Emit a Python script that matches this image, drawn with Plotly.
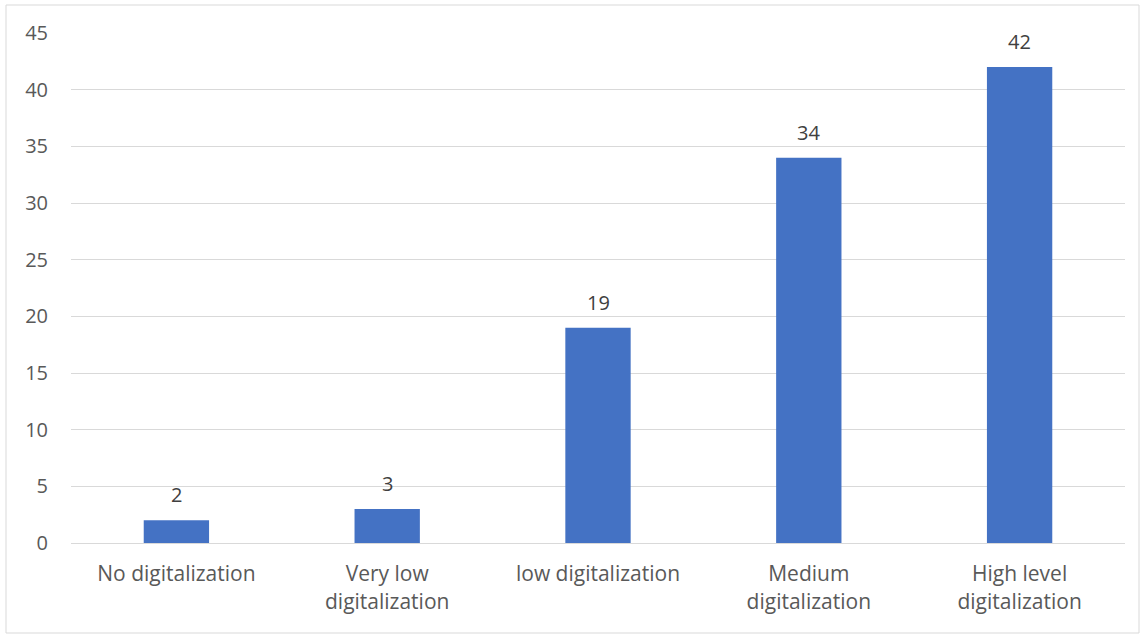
import plotly.graph_objects as go

categories = ["No digitalization", "Very low<br>digitalization", "low digitalization",
              "Medium<br>digitalization", "High level<br>digitalization"]
values = [2, 3, 19, 34, 42]
y_ticks = [0, 5, 10, 15, 20, 25, 30, 35, 40, 45]

W, H = 1142, 634
ML, MR, MT, MB = 71, 17, 33, 91
pw, ph = W - ML - MR, H - MT - MB


def px_to_paper_x(px):
    return (px - ML) / pw


def px_to_paper_y(py):
    return (H - MB - py) / ph


font_family = "'Open Sans', sans-serif"
grey = "#595959"
fsize = 21

fig = go.Figure(
    go.Bar(
        x=categories,
        y=values,
        marker=dict(color="#4472C4", line=dict(width=0)),
    )
)

# value labels above each bar
for c, v in zip(categories, values):
    fig.add_annotation(
        x=c, y=v, text=str(v), showarrow=False,
        yanchor="bottom", yshift=10,
        font=dict(family=font_family, size=20, color="#404040"),
    )

fig.update_layout(
    width=W,
    height=H,
    margin=dict(l=ML, r=MR, t=MT, b=MB),
    paper_bgcolor="white",
    plot_bgcolor="white",
    bargap=0.69,
    showlegend=False,
    font=dict(family=font_family, size=fsize, color=grey),
    shapes=[
        dict(
            type="rect",
            xref="paper", yref="paper",
            x0=px_to_paper_x(6), x1=px_to_paper_x(1139),
            y0=px_to_paper_y(633), y1=px_to_paper_y(5),
            line=dict(color="#d9d9d9", width=1),
            fillcolor="rgba(0,0,0,0)",
            layer="below",
        )
    ],
)

fig.update_xaxes(
    showgrid=False,
    showline=True,
    linecolor="#d9d9d9",
    linewidth=1,
    ticks="",
    ticklabelstandoff=12,
    tickfont=dict(family=font_family, size=fsize, color=grey),
)
fig.update_yaxes(
    range=[0, 45],
    tickvals=y_ticks,
    showgrid=True,
    gridcolor="#d9d9d9",
    gridwidth=1,
    zeroline=False,
    showline=False,
    ticks="",
    ticklabelstandoff=22,
    tickfont=dict(family=font_family, size=20, color=grey),
)

fig.write_html("out.html")
